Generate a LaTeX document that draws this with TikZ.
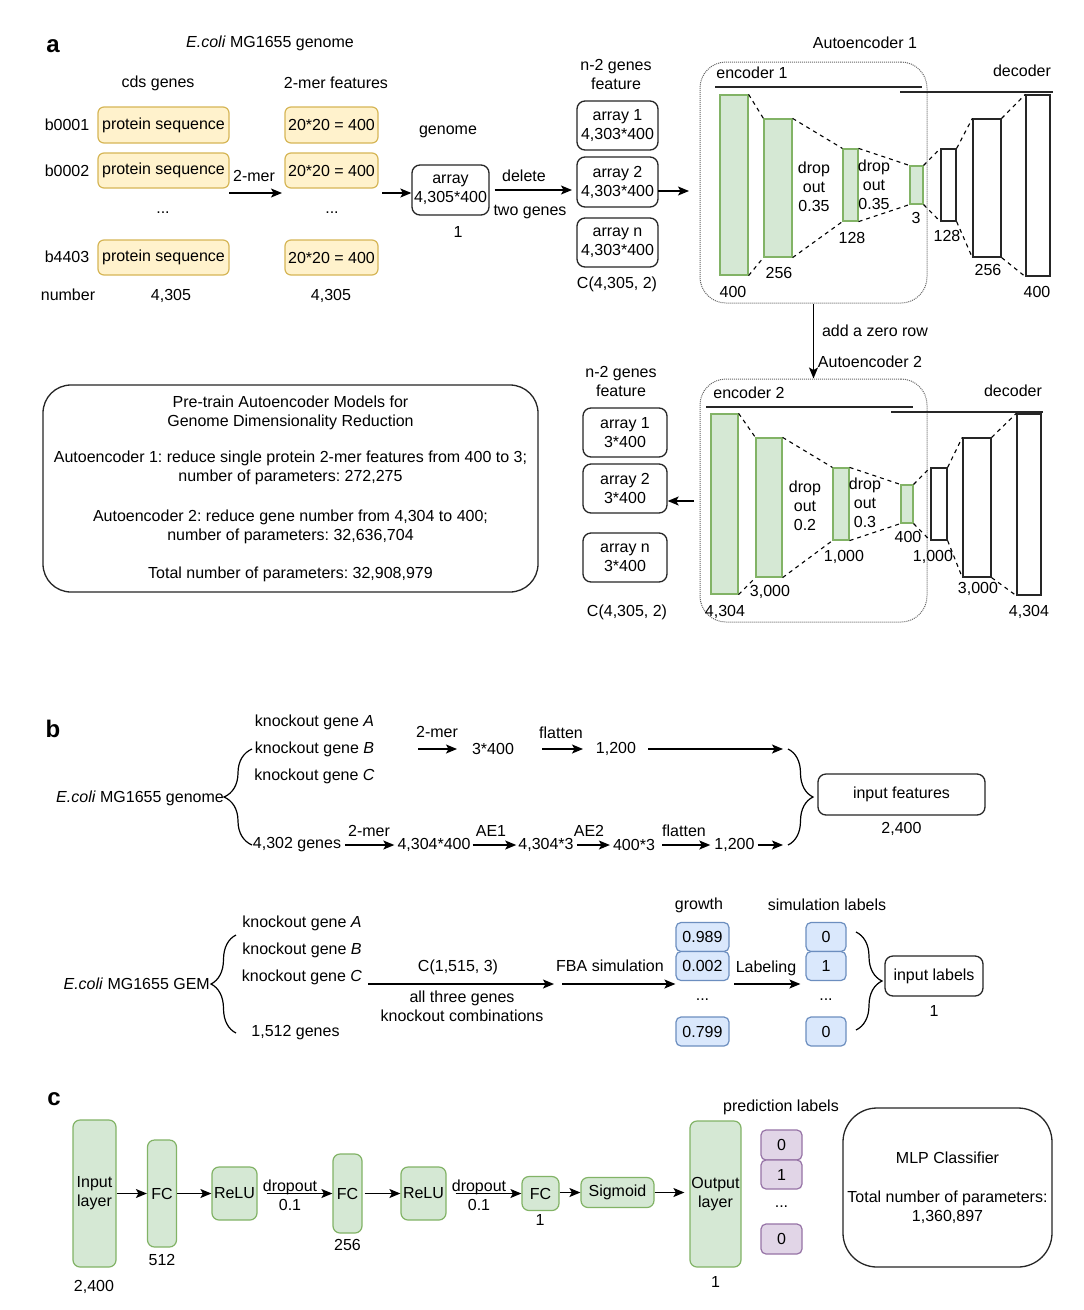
\documentclass[tikz,border=0pt]{standalone}
\usepackage{fontspec}
\setmainfont{Liberation Sans}
\usetikzlibrary{arrows.meta,decorations.pathreplacing,calc}
\frenchspacing
\definecolor{yfill}{HTML}{FFF2CC}
\definecolor{ydraw}{HTML}{D6B656}
\definecolor{gfill}{HTML}{D5E8D4}
\definecolor{gdraw}{HTML}{82B366}
\definecolor{bfill}{HTML}{DAE8FC}
\definecolor{bdraw}{HTML}{6C8EBF}
\definecolor{pfill}{HTML}{E1D5E7}
\definecolor{pdraw}{HTML}{9673A6}
\tikzset{
  lbl/.style={inner sep=0pt, align=center},
  ybox/.style={draw=ydraw, fill=yfill, rounded corners=6pt, line width=1.2pt, inner sep=0pt},
  wbox/.style={draw=black!85, fill=white, rounded corners=8pt, line width=1.3pt, inner sep=0pt, align=center},
  gbar/.style={draw=gdraw, fill=gfill, line width=1.2pt, inner sep=0pt},
  wbar/.style={draw=black!85, fill=white, line width=1.3pt, inner sep=0pt},
  gbox/.style={draw=gdraw, fill=gfill, rounded corners=7pt, line width=1.2pt, inner sep=0pt, align=center},
  bbox/.style={draw=bdraw, fill=bfill, rounded corners=5pt, line width=1.2pt, inner sep=0pt},
  pbox/.style={draw=pdraw, fill=pfill, rounded corners=5pt, line width=1.2pt, inner sep=0pt},
  arr/.style={-{Stealth[length=11pt,width=9pt,inset=2.5pt]}, line width=1.3pt},
  dsh/.style={dash pattern=on 4pt off 4pt, line width=1.1pt},
  dotbox/.style={draw=black!60, densely dotted, rounded corners=26pt, line width=1pt, inner sep=0pt},
  brc/.style={decorate, decoration={brace, amplitude=#1}, line width=1.2pt},
  panel/.style={font=\fontsize{24}{28}\selectfont\bfseries, inner sep=0pt},
}
\begin{document}
\begin{tikzpicture}[x=1pt,y=-1pt, font=\fontsize{16}{19}\selectfont]
\path[use as bounding box, fill=white] (0,0) rectangle (1084,1310);

% ================= Panel a =================
\node[panel] (pa) at (53,46) {a};
\node[lbl] (title1) at (270,43) {\textit{E.coli} MG1655 genome};
\node[lbl] (cds) at (158,83) {cds genes};
\node[lbl] (kmf) at (336,83) {2-mer features};
\node[lbl] (g1) at (67,125) {b0001};
\node[lbl] (g2) at (67,171) {b0002};
\node[lbl] (g3) at (67,257) {b4403};
\node[lbl] (num) at (68,295) {number};
\node[ybox, minimum width=131, minimum height=36] (ps1) at (163.5,125) {protein sequence};
\node[ybox, minimum width=131, minimum height=35] (ps2) at (163.5,170.5) {protein sequence};
\node[ybox, minimum width=131, minimum height=35] (ps3) at (163.5,257.5) {protein sequence};
\node[lbl] (psd) at (163,213) {...};
\node[lbl] (psn) at (171,296) {4,305};
\node[ybox, minimum width=93, minimum height=36] (kb1) at (331.5,125) {20*20 = 400};
\node[ybox, minimum width=93, minimum height=35] (kb2) at (331.5,170.5) {20*20 = 400};
\node[ybox, minimum width=93, minimum height=35] (kb3) at (331.5,257.5) {20*20 = 400};
\node[lbl] (kbd) at (332,213) {...};
\node[lbl] (kbn) at (331,296) {4,305};
\coordinate (m1s) at (229,193);
\coordinate (m1e) at (282,193);
\draw[arr] (m1s) -- (m1e);
\node[lbl] (m1l) at (254,176) {2-mer};
\node[lbl] (genl) at (448,132) {genome};
\node[wbox, minimum width=77, minimum height=50] (gen) at (450.5,190) {array\\4,305*400};
\node[lbl] (gen1) at (458,232) {1};
\coordinate (m2s) at (382,193);
\draw[arr] (m2s) -- (gen.west |- m2s);
\coordinate (delE) at (572,190);
\draw[arr, shorten <=5pt] (gen.east |- delE) -- (delE);
\node[lbl] (dell) at (524,176) {delete};
\node[lbl] (dell2) at (530,212) {two genes};
\node[lbl] (fa) at (616,74) {n-2 genes\\feature};
\node[wbox, minimum width=81, minimum height=49] (ar1) at (617.5,125.5) {array 1\\4,303*400};
\node[wbox, minimum width=81, minimum height=50] (ar2) at (617.5,182) {array 2\\4,303*400};
\node[wbox, minimum width=81, minimum height=49] (arn) at (617.5,242.5) {array n\\4,303*400};
\node[lbl] (arc) at (617,284) {C(4,305, 2)};

% Autoencoder 1
\node[lbl] (ae1t) at (865,43) {Autoencoder 1};
\node[dotbox, minimum width=227, minimum height=241] (ae1) at (813.5,182.5) {};
\coordinate (a2s) at (658,191);
\coordinate (a2e) at (689,191);
\draw[arr] (a2s) -- (a2e);
\node[lbl] (enc1) at (752,73) {encoder 1};
\node[lbl] (dec1) at (1022,71) {decoder};
\draw[line width=1.2pt, black!85] (715,87) -- (922,87);
\draw[line width=1.2pt, black!85] (900,92) -- (1053,92);
\node[gbar, minimum width=28, minimum height=180] (e1a) at (734,185) {};
\node[gbar, minimum width=28, minimum height=138] (e1b) at (778,188) {};
\node[gbar, minimum width=15, minimum height=72] (e1c) at (850.5,185) {};
\node[gbar, minimum width=13, minimum height=38] (e1d) at (916.5,185) {};
\node[wbar, minimum width=15, minimum height=72] (d1a) at (948.5,185) {};
\node[wbar, minimum width=28, minimum height=138] (d1b) at (987,188) {};
\node[wbar, minimum width=24, minimum height=181] (d1c) at (1038,185.5) {};
\foreach \p/\q in {e1a/e1b,e1b/e1c,e1c/e1d,e1d/d1a,d1a/d1b,d1b/d1c}{
  \draw[dsh] (\p.north east) -- (\q.north west);
  \draw[dsh] (\p.south east) -- (\q.south west);
}
\node[lbl] (l1a) at (733,292) {400};
\node[lbl] (l1b) at (779,273) {256};
\node[lbl] (l1c) at (852,238) {128};
\node[lbl] (l1d) at (916,218) {3};
\node[lbl] (l1e) at (947,236) {128};
\node[lbl] (l1f) at (988,270) {256};
\node[lbl] (l1g) at (1037,292) {400};
\node[lbl] (do1) at (814,187) {drop\\out\\0.35};
\node[lbl] (do2) at (874,185) {drop\\out\\0.35};

% transition
\node[dotbox, minimum width=227, minimum height=243] (ae2) at (813.5,500.5) {};
\draw[arr] (ae1.south) -- (ae2.north);
\node[lbl] (azr) at (875,331) {add a zero row};
\node[lbl] (ae2t) at (870,362) {Autoencoder 2};

% Autoencoder 2
\node[lbl] (enc2) at (749,393) {encoder 2};
\node[lbl] (dec2) at (1013,391) {decoder};
\draw[line width=1.2pt, black!85] (706,407) -- (913,407);
\draw[line width=1.2pt, black!85] (891,412) -- (1043,412);
\node[gbar, minimum width=27, minimum height=180] (e2a) at (724.5,504) {};
\node[gbar, minimum width=26, minimum height=139] (e2b) at (769,507.5) {};
\node[gbar, minimum width=16, minimum height=72] (e2c) at (841,504) {};
\node[gbar, minimum width=12, minimum height=38] (e2d) at (907,504) {};
\node[wbar, minimum width=16, minimum height=72] (d2a) at (939,504) {};
\node[wbar, minimum width=28, minimum height=139] (d2b) at (977,507.5) {};
\node[wbar, minimum width=24, minimum height=181] (d2c) at (1029,504.5) {};
\foreach \p/\q in {e2a/e2b,e2b/e2c,e2c/e2d,e2d/d2a,d2a/d2b,d2b/d2c}{
  \draw[dsh] (\p.north east) -- (\q.north west);
  \draw[dsh] (\p.south east) -- (\q.south west);
}
\node[lbl] (l2a) at (725,612) {4,304};
\node[lbl] (l2b) at (770,592) {3,000};
\node[lbl] (l2c) at (844,557) {1,000};
\node[lbl] (l2d) at (908,537) {400};
\node[lbl] (l2e) at (933,557) {1,000};
\node[lbl] (l2f) at (978,589) {3,000};
\node[lbl] (l2g) at (1029,612) {4,304};
\node[lbl] (do3) at (805,506) {drop\\out\\0.2};
\node[lbl] (do4) at (865,503) {drop\\out\\0.3};

\node[lbl] (fb) at (621,381) {n-2 genes\\feature};
\node[wbox, minimum width=84, minimum height=49] (br1) at (625,432.5) {array 1\\3*400};
\node[wbox, minimum width=84, minimum height=49] (br2) at (625,488.5) {array 2\\3*400};
\node[wbox, minimum width=84, minimum height=49] (brn) at (625,557.5) {array n\\3*400};
\node[lbl] (brc2) at (627,612) {C(4,305, 2)};
\coordinate (b2s) at (694,501);
\draw[arr] (b2s) -- (br2.east |- b2s);

\node[wbox, rounded corners=28pt, minimum width=495, minimum height=207] (info) at (290.5,488.5)
 {Pre-train Autoencoder Models for\\Genome Dimensionality Reduction\\[17pt]Autoencoder 1: reduce single protein 2-mer features from 400 to 3;\\number of parameters: 272,275\\[21pt]Autoencoder 2: reduce gene number from 4,304 to 400;\\number of parameters: 32,636,704\\[19pt]Total number of parameters: 32,908,979};

% ================= Panel b =================
\node[panel] (pb) at (53,729) {b};
\node[lbl] (koA) at (314.5,722) {knockout gene \textit{A}};
\node[lbl] (koB) at (314.5,749) {knockout gene \textit{B}};
\node[lbl] (koC) at (314.5,776) {knockout gene \textit{C}};
\node[lbl, anchor=east] (ecg) at (224,798) {\textit{E.coli} MG1655 genome};
\draw[brc=28pt] (252,845) -- (252,749);
\coordinate (t0s) at (418,749);
\node[lbl] (t1) at (493,749) {3*400};
\draw[arr] (t0s) -- ++(39,0) coordinate (t0e);
\node[lbl] (t0l) at (437,732) {2-mer};
\node[lbl] (t2) at (616,749) {1,200};
\coordinate (t1s) at (542,749);
\draw[arr] (t1s) -- (t2.west -| 583,0);
\node[lbl] (t1l) at (561,733) {flatten};
\coordinate (t2e) at (783,749);
\draw[arr, shorten <=12pt] (t2.east) -- (t2e);
\draw[brc=25pt] (788,749) -- (788,845);
\node[wbox, minimum width=167, minimum height=41] (inf) at (901.5,794.5) {input features};
\node[lbl] (inf2) at (901.5,829) {2,400};

\node[lbl] (u0) at (297,845) {4,302 genes};
\node[lbl] (u1) at (434,845) {4,304*400};
\node[lbl] (u2) at (546,845) {4,304*3};
\node[lbl] (u3) at (634,845) {400*3};
\node[lbl] (u4) at (734.5,845) {1,200};
\coordinate (u5) at (783,845);
\draw[arr, shorten <=4pt, shorten >=3pt] (u0) -- (u1);
\draw[arr, shorten <=2pt, shorten >=2pt] (u1) -- (u2);
\draw[arr, shorten <=3pt, shorten >=3pt] (u2) -- (u3);
\draw[arr, shorten <=7pt, shorten >=4pt] (u3) -- (u4);
\draw[arr, shorten <=3pt] (u4) -- (u5);
\node[lbl] (u0l) at (369,831) {2-mer};
\node[lbl] (u1l) at (491,831) {AE1};
\node[lbl] (u2l) at (589,831) {AE2};
\node[lbl] (u3l) at (684,831) {flatten};

% GEM part
\node[lbl, anchor=east] (gem) at (210,984) {\textit{E.coli} MG1655 GEM};
\draw[brc=25pt] (236,1033) -- (236,935);
\node[lbl] (kA) at (302,923) {knockout gene \textit{A}};
\node[lbl] (kB) at (302,950) {knockout gene \textit{B}};
\node[lbl] (kC) at (302,977) {knockout gene \textit{C}};
\node[lbl] (k15) at (295.5,1033) {1,512 genes};
\coordinate (c1s) at (368,984);
\coordinate (c1e) at (554,984);
\draw[arr] (c1s) -- (c1e);
\node[lbl] (c1l) at (458,967) {C(1,515, 3)};
\node[lbl] (c1l2) at (462,1006) {all three genes\\knockout combinations};
\node[lbl] (fbal) at (610,966) {FBA simulation};
\node[lbl] (grl) at (699,905) {growth};
\node[bbox, minimum width=53, minimum height=29] (gr1) at (702.5,937) {0.989};
\node[bbox, minimum width=53, minimum height=29] (gr2) at (702.5,966) {0.002};
\node[lbl] (grd) at (702.5,1000) {...};
\node[bbox, minimum width=53, minimum height=29] (gr3) at (702.5,1031.5) {0.799};
\coordinate (fbs) at (562,984);
\draw[arr] (fbs) -- (gr2.west |- fbs);
\node[lbl] (lbll) at (766,968) {Labeling};
\node[lbl] (sll) at (827,905) {simulation labels};
\node[bbox, minimum width=40, minimum height=29] (sl1) at (826,937) {0};
\node[bbox, minimum width=40, minimum height=29] (sl2) at (826,966) {1};
\node[lbl] (sld) at (826,1000) {...};
\node[bbox, minimum width=40, minimum height=29] (sl3) at (826,1031.5) {0};
\coordinate (lbs) at (734,984);
\draw[arr, shorten >=5pt] (lbs) -- (sl2.west |- lbs);
\draw[brc=26pt] (856,932) -- (856,1030);
\node[wbox, minimum width=98, minimum height=40] (inl) at (934,976) {input labels};
\node[lbl] (inl1) at (934,1011) {1};

% ================= Panel c =================
\node[panel] (pc) at (54,1099) {c};
\node[gbox, minimum width=43, minimum height=147] (il) at (94.5,1193.5) {Input\\layer};
\node[lbl] (il2) at (94,1287) {2,400};
\node[gbox, minimum width=29, minimum height=107] (fc1) at (162,1193.5) {FC};
\node[lbl] (fc1n) at (162,1260) {512};
\node[gbox, minimum width=45, minimum height=53] (re1) at (234.5,1193.5) {ReLU};
\node[gbox, minimum width=29, minimum height=79] (fc2) at (347.5,1193.5) {FC};
\node[lbl] (fc2n) at (347.5,1245) {256};
\node[gbox, minimum width=45, minimum height=53] (re2) at (423.5,1193.5) {ReLU};
\node[gbox, minimum width=37, minimum height=34] (fc3) at (540.5,1193.5) {FC};
\node[lbl] (fc3n) at (540,1220) {1};
\node[gbox, minimum width=73, minimum height=30] (sig) at (617.5,1192.5) {Sigmoid};
\node[gbox, minimum width=51, minimum height=146] (ol) at (715.5,1194) {Output\\layer};
\node[lbl] (ol1) at (715.5,1282) {1};
\draw[arr] (il) -- (fc1);
\draw[arr] (fc1) -- (re1);
\draw[arr, shorten <=9pt] (re1) -- (fc2);
\node[lbl] (dp1) at (290,1187) {dropout};
\node[lbl] (dp1b) at (290,1205) {0.1};
\draw[arr, shorten <=2pt] (fc2) -- (re2);
\draw[arr, shorten <=9pt] (re2) -- (fc3);
\node[lbl] (dp2) at (479,1187) {dropout};
\node[lbl] (dp2b) at (479,1205) {0.1};
\draw[arr] (fc3.east |- sig.west) -- (sig.west);
\draw[arr, shorten >=5pt] (sig) -- (ol.west |- sig.east);
\node[lbl] (pll) at (781,1107) {prediction labels};
\node[pbox, minimum width=41, minimum height=30] (pl1) at (781.5,1145) {0};
\node[pbox, minimum width=41, minimum height=29] (pl2) at (781.5,1174.5) {1};
\node[lbl] (pld) at (781.5,1207) {...};
\node[pbox, minimum width=41, minimum height=30] (pl3) at (781.5,1239) {0};
\node[wbox, rounded corners=34pt, minimum width=209, minimum height=159] (mlp) at (947.5,1187.5)
 {MLP Classifier\\[20pt]Total number of parameters:\\1,360,897};
\end{tikzpicture}
\end{document}
